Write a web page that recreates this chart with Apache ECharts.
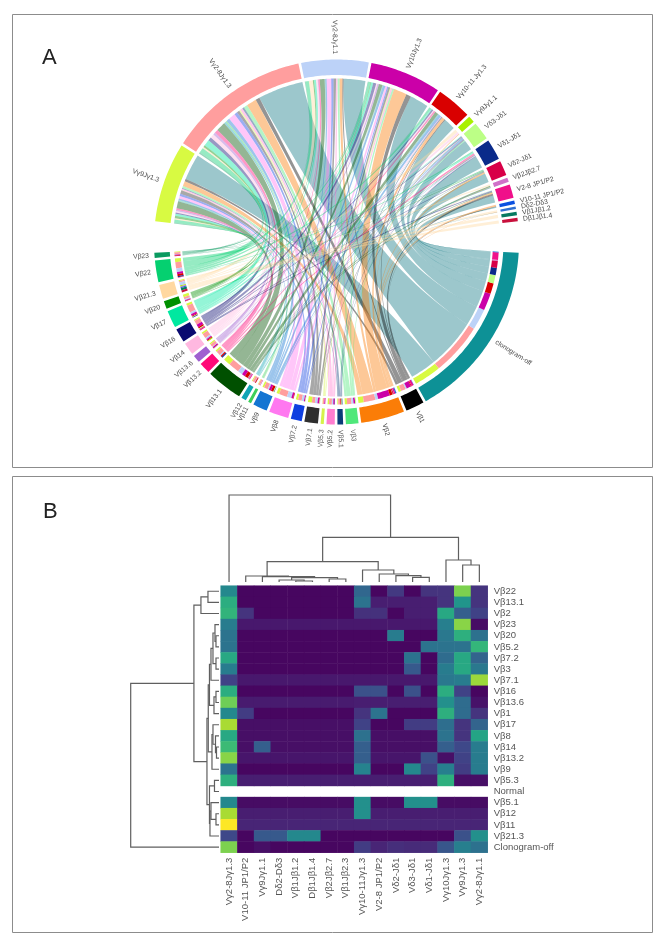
<!DOCTYPE html>
<html><head><meta charset="utf-8">
<style>html,body{margin:0;padding:0;background:#fff}#c{width:668px;height:950px}canvas{filter:blur(0.45px)}</style>
<script src="https://cdn.jsdelivr.net/npm/echarts@6/dist/echarts.min.js"></script>
</head><body><div id="c"></div>
<script>
// ---------- Panel A: chord data ----------
const lowerNames = ['clonogram-off','Vβ1','Vβ2','Vβ3','Vβ5.1','Vβ5.2','Vβ5.3','Vβ7.1','Vβ7.2','Vβ8','Vβ9','Vβ11','Vβ12','Vβ13.1','Vβ13.2','Vβ13.6','Vβ14','Vβ16','Vβ17','Vβ20','Vβ21.3','Vβ22','Vβ23'];
const lowerSizes = [57.3,5.9,13.9,4,1.8,2.6,1,4.3,3.5,6.3,4.6,1,1.6,11.5,3.5,2.4,3.9,4.4,5.5,2.5,4.5,6.9,1.6];
const lowerColors = ['#0d9196','#000000','#fb7d07','#4fe87a','#0a3c78','#ff7dd0','#d6f24a','#2f2f2f','#0f3fe0','#ff78f0','#1375d2','#3ecf5a','#0fa5b5','#005000','#ff0a78','#a060d0','#ffb8e0','#0a0a70','#00e8a0','#009000','#ffd8a0','#05d070','#0a9a60'];
const upperNames = ['Vγ9Jγ1.3','Vγ2-8Jγ1.3','Vγ2-8Jγ1.1','Vγ10Jγ1.3','Vγ10-11 Jγ1.3','Vγ9Jγ1.1','Vδ3-Jδ1','Vδ1-Jδ1','Vδ2-Jδ1','Vβ2Jβ2.7','V2-8 JP1/P2','V10-11 JP1/P2','Dδ2-Dδ3','Vβ1Jβ1.2','Dβ1Jβ1.4'];
const upperSizes = [25.4,45.2,21.4,22.7,11.2,2.1,5.8,6.6,4.8,1.4,4.4,1.1,0.8,1.1,1.1];
const upperColors = ['#d8fa42','#ff9e9e','#bcd2f8','#cb00a8','#d90000','#a8f000','#bcff86','#0a2a8a','#d80048','#d070c8','#f0108a','#0a50e0','#2f6fd0','#067a60','#c8103c'];
// rows: lower sectors; columns: upper sectors
const chordMatrix = [
 [9.8,19,7.6,6.2,3.9,0,3,2.6,2.6,0.3,2.7,0.2,0.1,0,0],
 [0.9,1.7,0.4,1.6,0.3,0,0,0,0,0,0.7,0.1,0,0,0],
 [1.9,4.2,1,4.3,1,0.1,0,0,0.4,0.1,0.5,0.3,0.1,0,0],
 [0.8,1.6,0.7,0.6,0,0,0.3,0,0,0,0,0,0,0,0],
 [0.3,0.8,0,0,0.3,0,0.2,0.2,0,0,0,0,0,0,0],
 [0.5,1,0.5,0.5,0,0,0,0.1,0,0,0,0,0,0,0],
 [0.1,0.6,0,0.3,0,0,0,0,0,0,0,0,0,0,0],
 [1.4,1.1,0.9,0.6,0.1,0,0.2,0,0,0,0,0,0,0,0],
 [0.8,1.3,0.8,0.4,0,0,0.2,0,0,0,0,0,0,0,0],
 [1,2.9,1.6,0.6,0.2,0,0,0,0,0,0,0,0,0,0],
 [0.6,1.4,0.5,0.8,0.9,0,0.3,0.1,0,0,0,0,0,0,0],
 [0.2,0.6,0.1,0.1,0,0,0,0,0,0,0,0,0,0,0],
 [0.3,0.8,0.1,0.1,0.3,0,0,0,0,0,0,0,0,0,0],
 [2.6,3.9,1.7,1.2,1.2,0,0.1,0.1,0.1,0.3,0.3,0,0,0,0],
 [0.6,1.5,0.5,0,0.5,0,0,0.4,0,0,0,0,0,0,0],
 [0.5,1,0.2,0.5,0.1,0,0.1,0,0,0,0,0,0,0,0],
 [0.6,1.7,0.6,0.4,0.3,0.3,0,0,0,0,0,0,0,0,0],
 [0.4,1.5,0,1,0.5,0,0.3,0,0.2,0,0.4,0,0,0,0],
 [0.8,2.6,0.7,0.7,0.3,0,0.2,0.2,0,0,0,0,0,0,0],
 [0.9,0.8,0.4,0.2,0,0,0,0,0.2,0,0,0,0,0,0],
 [0.5,0.6,1.4,0,0,0.4,0,0,0,0.4,0,0,0.5,1,1],
 [1.2,2.1,1.2,0.7,0.7,0,0,0.3,0.1,0,0.1,0,0,0,0],
 [0.3,0.6,0.2,0.2,0.1,0,0,0,0.2,0,0,0,0,0,0]
];
// ---------- Panel B: heat map data ----------
const heatCols = ['Vγ2-8Jγ1.3','V10-11 JP1/P2','Vγ9Jγ1.1','Dδ2-Dδ3','Vβ1Jβ1.2','Dβ1Jβ1.4','Vβ2Jβ2.7','Vβ1Jβ2.3','Vγ10-11Jγ1.3','V2-8 JP1/P2','Vδ2-Jδ1','Vδ3-Jδ1','Vδ1-Jδ1','Vγ10Jγ1.3','Vγ9Jγ1.3','Vγ2-8Jγ1.1'];
const heatRows = ['Vβ22','Vβ13.1','Vβ2','Vβ23','Vβ20','Vβ5.2','Vβ7.2','Vβ3','Vβ7.1','Vβ16','Vβ13.6','Vβ1','Vβ17','Vβ8','Vβ14','Vβ13.2','Vβ9','Vβ5.3','Normal','Vβ5.1','Vβ12','Vβ11','Vβ21.3','Clonogram-off'];
const heatValues = [
 [.47,0,0,0,0,0,0,0,.33,0,.17,0,.15,.15,.8,.15],
 [.62,0,0,0,0,0,0,0,.38,.08,.08,.08,.08,.15,.52,.15],
 [.65,.15,0,0,0,0,0,0,.14,.14,0,.08,.08,.6,.3,.2],
 [.42,.06,.06,.06,.06,.06,.06,.06,.06,.06,.06,.06,.06,.43,.82,.02],
 [.38,0,0,0,0,0,0,0,0,0,.42,0,0,.4,.63,.37],
 [.38,0,0,0,0,0,0,0,0,0,0,0,.38,.38,.38,.66],
 [.6,0,0,0,0,0,0,0,0,0,0,.38,0,.35,.6,.32],
 [.42,0,0,0,0,0,0,0,0,0,0,.28,0,.42,.6,.4],
 [.2,.06,.06,.06,.06,.06,.06,.06,.06,.06,.06,.06,.06,.4,.42,.85],
 [.62,0,0,0,0,0,0,0,.25,.25,0,.25,0,.62,.2,0],
 [.78,.07,.07,.07,.07,.07,.07,.07,.08,.08,.08,.08,.08,.5,.35,.04],
 [.47,.18,0,0,0,0,0,0,.15,.38,0,0,0,.63,.35,.15],
 [.87,.03,.03,.03,.03,.03,.03,.03,.2,0,0,.18,.18,.36,.15,.32],
 [.6,.03,.03,.03,.03,.03,.03,.03,.37,.03,.03,.03,.03,.38,.15,.58],
 [.68,.03,.3,.03,.03,.03,.03,.03,.3,.03,.03,.03,.03,.3,.22,.42],
 [.82,.05,.05,.05,.05,.05,.05,.05,.3,.05,.05,.05,.25,.03,.2,.42],
 [.38,0,0,0,0,0,0,0,.45,0,0,.47,.2,.43,.18,.42],
 [.63,.08,.08,.08,.08,.08,.08,.08,.08,.08,.08,.08,.08,.63,.03,.03],
 [null,null,null,null,null,null,null,null,null,null,null,null,null,null,null,null],
 [.47,.02,.02,.02,.02,.02,.02,.02,.5,.02,.02,.5,.5,.02,.02,.02],
 [.87,.08,.08,.08,.08,.08,.08,.08,.5,.08,.08,.08,.08,.08,.08,.08],
 [1,.1,.1,.1,.1,.1,.1,.1,.1,.1,.1,.1,.1,.1,.1,.1],
 [.22,0,.28,.28,.47,.47,0,0,0,0,0,0,0,0,.25,.5],
 [.8,0,.03,0,0,0,0,0,.18,.1,.13,.12,.12,.27,.43,.37]
];
// dendrogram merges: [left child, right child, height]; negative = leaf number, positive = earlier merge number
const topMerges = [[-5,-6,1],[-4,1,2],[-7,-8,3],[2,3,4.3],[-3,4,5.3],[-2,5,6],[-12,-13,4.7],[-11,7,6.3],[-10,8,8],[-9,9,12],[6,10,20.3],[-15,-16,17],[-14,12,22],[11,13,44.7],[-1,14,87]];
const leftMerges = [[-1,-2,11],[1,-3,18],[-5,-6,3],[-4,3,4],[-7,-8,3],[4,5,6],[6,-9,8],[-10,-11,3],[8,-12,5],[7,9,9.5],[-15,-16,2.5],[-14,11,3.5],[-13,12,6],[13,-17,7],[10,14,10.7],[-18,-19,4.5],[-21,-22,3],[-20,17,8],[18,-23,9],[16,19,9.5],[15,20,12],[2,21,25],[22,-24,88]];

// ---------- layout helpers ----------
const FONT = '"Liberation Sans", Arial, sans-serif';
const START = 93.4, SMALLGAP = 0.85, BIGGAP = 9.9;
const R_OUT = 182.5, R_OUT_IN = 167, R_RING_OUT = 162.5, R_RING_IN = 156.5, R_UP = 163.5, R_LOW = 154.5, R_LABEL = 188, CTRL = 0.02;
function sectorLayout(){
  let v = 0; const lower = [], upper = [];
  lowerSizes.forEach((s,i)=>{lower.push([v,v+s]); v += s + (i<lowerSizes.length-1?SMALLGAP:BIGGAP);});
  upperSizes.forEach((s,i)=>{upper.push([v,v+s]); v += s + SMALLGAP;});
  return {lower,upper};
}
const secs = sectorLayout();
const ribbonsList = (function(){
  const nr = lowerSizes.length, nc = upperSizes.length;
  const rowSum = chordMatrix.map(r=>r.reduce((a,b)=>a+b,0));
  const colSum = upperSizes.map((_,j)=>chordMatrix.reduce((a,r)=>a+r[j],0));
  const low = {}, up = {};
  for(let i=0;i<nr;i++){ let a = secs.lower[i][0];
    for(let j=nc-1;j>=0;j--){ const w = chordMatrix[i][j]/rowSum[i]*lowerSizes[i]; if(w>0){low[i+'_'+j]=[a,a+w]; a+=w;} } }
  for(let j=0;j<nc;j++){ let a = secs.upper[j][0];
    for(let i=nr-1;i>=0;i--){ const w = chordMatrix[i][j]/colSum[j]*upperSizes[j]; if(w>0){up[i+'_'+j]=[a,a+w]; a+=w;} } }
  const out = [];
  for(let i=0;i<nr;i++) for(let j=0;j<nc;j++) if(low[i+'_'+j]) out.push({i,j,low:low[i+'_'+j],up:up[i+'_'+j]});
  return out;
})();
function arcPts(api,r,a0,a1){
  const n = Math.max(2,Math.ceil(Math.abs(a1-a0)/0.8)+1), pts=[];
  for(let k=0;k<n;k++) pts.push(api.coord([r,a0+(a1-a0)*k/(n-1)]));
  return pts;
}
function quad(p0,o,p1){
  const mx=(p0[0]+p1[0])/2-o[0], my=(p0[1]+p1[1])/2-o[1], len=Math.hypot(mx,my)||1;
  const R=Math.hypot(p0[0]-o[0],p0[1]-o[1]);
  const c=[o[0]+mx/len*R*CTRL,o[1]+my/len*R*CTRL];
  const pts=[];
  for(let k=1;k<32;k++){const t=k/32,u=1-t; pts.push([u*u*p0[0]+2*u*t*c[0]+t*t*p1[0],u*u*p0[1]+2*u*t*c[1]+t*t*p1[1]]);}
  return pts;
}
function sectorEl(api,r0,r1,a0,a1,color){
  const pts = arcPts(api,r1,a0,a1).concat(arcPts(api,r0,a1,a0));
  return {type:'polygon',shape:{points:pts},style:{fill:color}};
}
function hexA(hex,a){
  const n=parseInt(hex.slice(1),16);
  return 'rgba('+(n>>16&255)+','+(n>>8&255)+','+(n&255)+','+a+')';
}
function ribbonFill(i){ return i===0?'rgba(19,122,134,0.42)':hexA(lowerColors[i],0.42); }
function treeLines(merges){
  const pos=[],hgt=[],lines=[];
  function get(c){ return c<0?[-c-0.5,0]:[pos[c-1],hgt[c-1]]; }
  merges.forEach(m=>{
    const a=get(m[0]),b=get(m[1]);
    pos.push((a[0]+b[0])/2); hgt.push(m[2]);
    lines.push([[a[0],a[1]],[a[0],m[2]],[b[0],m[2]],[b[0],b[1]]]);
  });
  return lines;
}
const topLines = treeLines(topMerges), leftLines = treeLines(leftMerges);
const heatData = [];
heatValues.forEach((row,y)=>row.forEach((v,x)=>{ if(v!==null) heatData.push([x,y,v]); }));
const allSectors = lowerNames.map((n,i)=>({n,c:lowerColors[i],a:secs.lower[i]})).concat(upperNames.map((n,i)=>({n,c:upperColors[i],a:secs.upper[i]})));

// ---------- chart ----------
const chart = echarts.init(document.getElementById('c'),null,{renderer:'canvas'});
const HL=220.7,HT=585.7,HW=267,HH=267;
chart.setOption({
  animation:false,
  backgroundColor:'#fff',
  graphic:[
    {type:'rect',silent:true,z:-10,shape:{x:12.5,y:14.5,width:640,height:453},style:{fill:'#fff',stroke:'#8c8c8c',lineWidth:1}},
    {type:'rect',silent:true,z:-10,shape:{x:12.5,y:476.5,width:640,height:456},style:{fill:'#fff',stroke:'#8c8c8c',lineWidth:1}},
    {type:'text',silent:true,x:42,y:47,style:{text:'A',font:'22px '+FONT,fill:'#222'}},
    {type:'text',silent:true,x:43,y:501,style:{text:'B',font:'22px '+FONT,fill:'#222'}}
  ],
  polar:{center:[336.5,242],radius:183},
  angleAxis:{type:'value',min:0,max:360,startAngle:90-START,clockwise:true,show:false},
  radiusAxis:{type:'value',min:0,max:183,show:false},
  grid:[
    {left:HL,top:HT,width:HW,height:HH,containLabel:false},
    {left:HL,top:495,width:HW,height:87},
    {left:130.7,top:HT,width:88.3,height:HH}
  ],
  xAxis:[
    {gridIndex:0,type:'category',data:heatCols,position:'bottom',axisLine:{show:false},axisTick:{show:false},splitLine:{show:false},splitArea:{show:false},
      axisLabel:{rotate:90,interval:0,margin:5,fontSize:9.5,color:'#555',fontFamily:FONT}},
    {gridIndex:1,type:'value',min:0,max:heatCols.length,show:false},
    {gridIndex:2,type:'value',min:0,max:88,inverse:true,show:false}
  ],
  yAxis:[
    {gridIndex:0,type:'category',data:heatRows,inverse:true,position:'right',axisLine:{show:false},axisTick:{show:false},splitLine:{show:false},splitArea:{show:false},
      axisLabel:{interval:0,margin:6,fontSize:9.5,color:'#555',fontFamily:FONT}},
    {gridIndex:1,type:'value',min:0,max:87,show:false},
    {gridIndex:2,type:'value',min:0,max:heatRows.length,inverse:true,show:false}
  ],
  visualMap:{show:false,seriesIndex:4,dimension:2,min:0,max:1,
    inRange:{color:['#470660','#482878','#3e4989','#31688e','#26828e','#1f9e89','#35b779','#6ece58','#b5de2b','#fde725']}},
  series:[
    {type:'custom',coordinateSystem:'polar',silent:true,clip:false,z:2,
      data:ribbonsList.map((r,k)=>[k]),
      renderItem:function(p,api){
        const r=ribbonsList[p.dataIndex],c=api.coord([0,0]);
        const upA=arcPts(api,R_UP,r.up[0],r.up[1]), loA=arcPts(api,R_LOW,r.low[0],r.low[1]);
        const pts=upA.concat(quad(upA[upA.length-1],c,loA[0]),loA,quad(loA[loA.length-1],c,upA[0]));
        return {type:'polygon',shape:{points:pts},style:{fill:ribbonFill(r.i)}};
      }},
    {type:'custom',coordinateSystem:'polar',silent:true,clip:false,z:3,
      data:ribbonsList.map((r,k)=>[k]),
      renderItem:function(p,api){
        const r=ribbonsList[p.dataIndex];
        return sectorEl(api,R_RING_IN,R_RING_OUT,r.low[0],r.low[1],upperColors[r.j]);
      }},
    {type:'custom',coordinateSystem:'polar',silent:true,clip:false,z:3,
      data:allSectors.map((s,k)=>[k]),
      renderItem:function(p,api){
        const s=allSectors[p.dataIndex];
        return sectorEl(api,R_OUT_IN,R_OUT,s.a[0],s.a[1],s.c);
      }},
    {type:'custom',coordinateSystem:'polar',silent:true,clip:false,z:4,
      data:allSectors.map((s,k)=>[k]),
      renderItem:function(p,api){
        const s=allSectors[p.dataIndex];
        const mid=(s.a[0]+s.a[1])/2, pt=api.coord([R_LABEL,mid]);
        const theta=((mid+START)%360);
        const right=theta<180;
        const deg=right?90-theta:270-theta;
        return {type:'text',x:pt[0],y:pt[1],rotation:deg*Math.PI/180,
          style:{text:s.n,fontSize:6.8,fontFamily:FONT,fill:'#4a4a4a',align:right?'left':'right',verticalAlign:'middle'}};
      }},
    {type:'heatmap',xAxisIndex:0,yAxisIndex:0,data:heatData,silent:true,itemStyle:{borderWidth:0},progressive:0},
    {type:'custom',coordinateSystem:'cartesian2d',xAxisIndex:1,yAxisIndex:1,silent:true,clip:false,
      data:topLines.map((l,k)=>[k,0]),
      renderItem:function(p,api){
        return {type:'polyline',shape:{points:topLines[p.dataIndex].map(q=>api.coord([q[0],q[1]]))},style:{stroke:'#5f5f5f',fill:null,lineWidth:1.2}};
      }},
    {type:'custom',coordinateSystem:'cartesian2d',xAxisIndex:2,yAxisIndex:2,silent:true,clip:false,
      data:leftLines.map((l,k)=>[0,k]),
      renderItem:function(p,api){
        return {type:'polyline',shape:{points:leftLines[p.dataIndex].map(q=>api.coord([q[1],q[0]]))},style:{stroke:'#5f5f5f',fill:null,lineWidth:1.2}};
      }}
  ]
});
</script></body></html>
